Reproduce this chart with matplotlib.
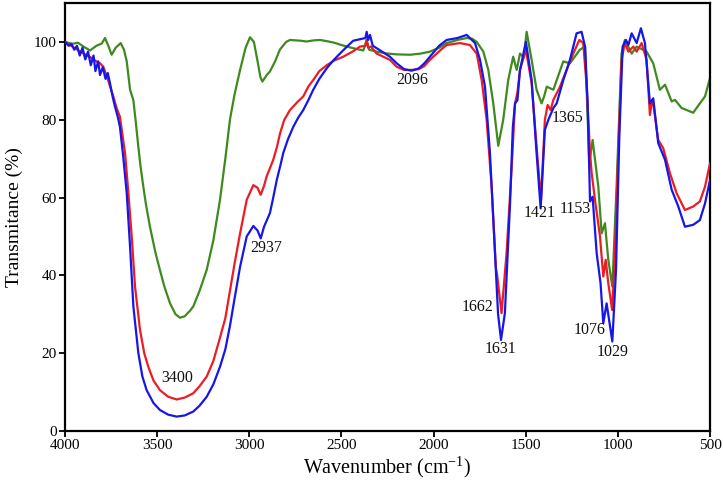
import matplotlib
matplotlib.use("Agg")
import matplotlib.pyplot as plt

plt.rcParams['font.family'] = ['Liberation Serif', 'DejaVu Serif']
plt.rcParams['mathtext.fontset'] = 'custom'
plt.rcParams['mathtext.rm'] = 'Liberation Serif'
plt.rcParams['mathtext.it'] = 'Liberation Serif:italic'

# ---- data (wavenumber in cm-1, transmittance in %) ----
wn_green = [4000, 3960, 3930, 3900, 3864, 3830, 3800, 3783, 3765, 3747, 3725, 3698, 3680, 3665,
            3647, 3629, 3615, 3602, 3590, 3575, 3560, 3539, 3510, 3485, 3460, 3430, 3400, 3376,
            3350, 3320, 3304, 3270, 3231, 3195, 3159, 3130, 3105, 3080, 3050, 3020,
            2996, 2975, 2955, 2940, 2929, 2905, 2888, 2860, 2834, 2800, 2779, 2720, 2689, 2650,
            2616, 2580, 2540, 2500, 2471, 2420, 2381,
            2363, 2350, 2309, 2250, 2200, 2128, 2070, 2020, 1970, 1929, 1870, 1820, 1790, 1766,
            1730, 1703, 1676, 1649, 1622,
            1595, 1568, 1549, 1531, 1510, 1495, 1468, 1441, 1414, 1400, 1386, 1350, 1296, 1260,
            1206, 1178, 1160, 1155, 1137, 1106, 1088, 1070, 1052, 1030, 1007, 980, 962, 925, 898,
            844, 808, 772, 744, 708, 690, 654, 627, 591, 555, 527, 500]
t_green = [100, 99.5, 99.8, 98.8, 97.8, 99, 99.6, 101, 99, 96.7, 98.5, 99.7, 98, 95,
           87.7, 85, 79, 73, 68, 62.8, 58, 52.5, 46, 41.4, 37, 32.8, 30, 29.1,
           29.5, 31, 32, 36, 41.4, 49, 59.4, 70, 80, 86.5, 92.8, 98.5,
           101.2, 100, 95, 91, 89.8, 91.5, 92.4, 95, 98, 100, 100.5, 100.3, 100.1, 100.4,
           100.5, 100.2, 99.8, 99.2, 98.8, 98.2, 97.8,
           100.5, 98, 97.5, 97, 96.8, 96.7, 97, 97.5, 98.5, 99.7, 100.5, 101, 100.8, 100,
           97.5, 92.8, 84.2, 73.3, 80,
           90.2, 96.2, 92.8, 97, 96, 102.6, 95.4, 87.7, 84.2, 86, 88.5, 87.7, 95, 94.5,
           98, 98.8, 75.7, 68.8, 74.8, 62.8, 50.8, 53.4, 44, 37.1, 62.8, 97, 100.5, 97, 98.8,
           97.5, 94.5, 87.7, 89, 84.7, 85.1, 83, 82.5, 81.8, 84.2, 86, 90.7]

wn_red = [4000, 3950, 3900, 3860, 3830, 3810, 3792, 3765, 3738, 3720, 3702, 3674, 3656, 3638,
          3620, 3593, 3570, 3548, 3520, 3485, 3440, 3394, 3350, 3304, 3270, 3231, 3195, 3159,
          3130, 3105, 3080, 3050, 3014, 2978,
          2955, 2938, 2920, 2906, 2870, 2850, 2833, 2810, 2779, 2740, 2707, 2680, 2653, 2620,
          2580, 2540, 2490, 2440, 2399, 2370,
          2363, 2355, 2340, 2309, 2237, 2200, 2160, 2119, 2080, 2050, 2020, 1960, 1929, 1857,
          1803, 1766, 1739, 1712, 1685, 1662, 1655, 1631, 1604, 1577, 1558, 1545, 1531, 1499,
          1468, 1441, 1417, 1396, 1381, 1365, 1350, 1314, 1278, 1242, 1209, 1188, 1169, 1151,
          1142, 1124, 1097, 1079, 1066, 1052, 1031, 1016, 998, 980, 962, 943, 916, 898, 871,
          844, 826, 815, 808, 781, 754, 717, 681, 636, 591, 555, 527, 500]
t_red = [100, 98.5, 97, 96, 95, 94.5, 93.6, 90, 86, 83, 80.8, 71.4, 61.1, 50,
         37.1, 26, 20, 16.5, 13, 10.5, 8.8, 8.1, 8.6, 9.7, 11.5, 14, 18, 24,
         29, 36, 43, 50.8, 59.4, 63.2,
         62.5, 60.7, 63, 65.4, 69.7, 73, 76.5, 80, 82.5, 84.5, 86, 88.5, 90.2, 92.5,
         94, 95.2, 96.2, 97.5, 98.8, 99,
         100.5, 98.5, 98.8, 97, 95.4, 93.6, 92.8, 92.8, 93, 93.8, 95.4, 98, 99.2, 99.7,
         99.2, 97, 90.2, 80, 62.8, 42, 40, 30.3, 45.7, 67, 84.2, 87, 92.8, 98,
         89.4, 73.1, 59.4, 80, 83.8, 82.5, 85.1, 88.5, 92.8, 97, 100.5, 99.7, 88.5, 71.4,
         66.2, 59.4, 50, 39.7, 44, 38, 31.1, 45.7, 71.4, 95.4, 99.7, 97.5, 98.8, 97.5, 99.7,
         95.4, 81.2, 85, 84.2, 74.8, 72.7, 66.2, 61.1, 56.8, 57.7, 59, 62.8, 68.8]

wn_blue = [4000, 3980, 3965, 3950, 3935, 3920, 3905, 3890, 3875, 3860, 3845, 3835, 3820, 3810,
           3795, 3780, 3768, 3756, 3742, 3729, 3715, 3702, 3684, 3665, 3647, 3629, 3602, 3580,
           3557, 3520, 3485, 3440, 3394, 3350, 3304, 3270, 3231, 3195, 3159, 3130, 3105, 3080,
           3050, 3014, 2978, 2955, 2938, 2920,
           2888, 2870, 2851, 2830, 2816, 2790, 2761, 2735, 2707, 2680, 2653, 2620, 2580, 2545,
           2508, 2470, 2436, 2390, 2370, 2363, 2355, 2345,
           2330, 2309, 2237, 2200, 2160, 2119, 2080, 2050, 2020, 1970, 1929, 1870, 1820, 1775,
           1748, 1721, 1694, 1667, 1650, 1634, 1613, 1585, 1570, 1558, 1545, 1531, 1499, 1468,
           1441, 1419, 1396, 1377, 1350, 1332, 1296, 1260, 1224, 1197, 1178, 1164, 1151, 1137,
           1115, 1094, 1079, 1061, 1030, 1010, 992, 974, 956, 943, 925, 898, 875, 853, 826,
           808, 781, 744, 708, 672, 636, 591, 555, 527, 500]
t_blue = [100, 99, 99.5, 98, 99, 96.5, 98.5, 95.5, 97.5, 94, 96.5, 92.5, 95, 91.5,
          93.5, 90.5, 92, 89.4, 86, 83.4, 81, 78.2, 70.5, 61.1, 47.4, 32, 20, 14,
          10.5, 7.2, 5.4, 4.2, 3.7, 4.0, 5, 6.5, 8.8, 12, 16.5, 21, 27, 34,
          42.2, 50, 52.7, 51.5, 49.5, 52.5,
          56, 60, 64.5, 68.5, 71.4, 75, 78.2, 80.5, 82.5, 85, 87.7, 90.5, 93.2, 95.2,
          97, 98.8, 100.3, 100.8, 101, 102.6, 100.5, 101.8,
          99, 98.4, 96.2, 94.5, 93, 92.6, 93.2, 94.5, 96.2, 99, 100.5, 101, 101.8, 99.7,
          95.4, 88.5, 71.4, 45.7, 30, 23.4, 30.3, 58.5, 78, 84.2, 85, 92.8, 100, 90.2,
          71.4, 57.2, 77.4, 80, 83, 84.2, 90.2, 95.4, 102.2, 102.6, 98.8, 84.2, 59, 60.2,
          45.7, 38, 27.7, 32.8, 23, 41.4, 75.7, 98.8, 100.5, 99.2, 102.2, 99.7, 103.5, 99.7, 84.2,
          85.5, 74, 69.7, 62, 57.7, 52.5, 53, 54.2, 58.5, 64.5]

peak_labels = ['3400', '2937', '2096', '1662', '1631', '1421', '1365', '1153', '1076', '1029']
label_x = [3391, 2910, 2118, 1762, 1637, 1423, 1272, 1231, 1156, 1029]
label_y = [13.5, 47.1, 90.2, 31.8, 21.0, 56.0, 80.4, 57.0, 26.0, 20.4]

x_ticks = [4000, 3500, 3000, 2500, 2000, 1500, 1000, 500]
y_ticks = [0, 20, 40, 60, 80, 100]

# ---- figure ----
fig = plt.figure(figsize=(7.23, 4.84), dpi=100)
ax = fig.add_axes([65 / 723, 53 / 484, 645 / 723, 428 / 484])

ax.plot(wn_green, t_green, color='#3f8a1e', lw=1.6, zorder=2)
ax.plot(wn_red, t_red, color='#ec1c24', lw=1.6, zorder=3)
ax.plot(wn_blue, t_blue, color='#1616e8', lw=1.6, zorder=4)

for s, x, y in zip(peak_labels, label_x, label_y):
    ax.text(x, y, s, ha='center', va='center', fontsize=11.5, color='#111111', zorder=5)

ax.set_xlim(4000, 500)
ax.set_ylim(0, 110)
ax.set_xticks(x_ticks)
ax.set_yticks(y_ticks)
ax.tick_params(direction='out', length=4, width=1.3, labelsize=11, pad=2,
               top=False, right=False)
for sp in ax.spines.values():
    sp.set_linewidth(1.6)
    sp.set_color('black')

ax.set_xlabel('Wavenumber (cm$^{-1}$)', fontsize=14.5, labelpad=2)
ax.set_ylabel('Transmitance (%)', fontsize=14, labelpad=8)

fig.savefig('out.png', dpi=100)
